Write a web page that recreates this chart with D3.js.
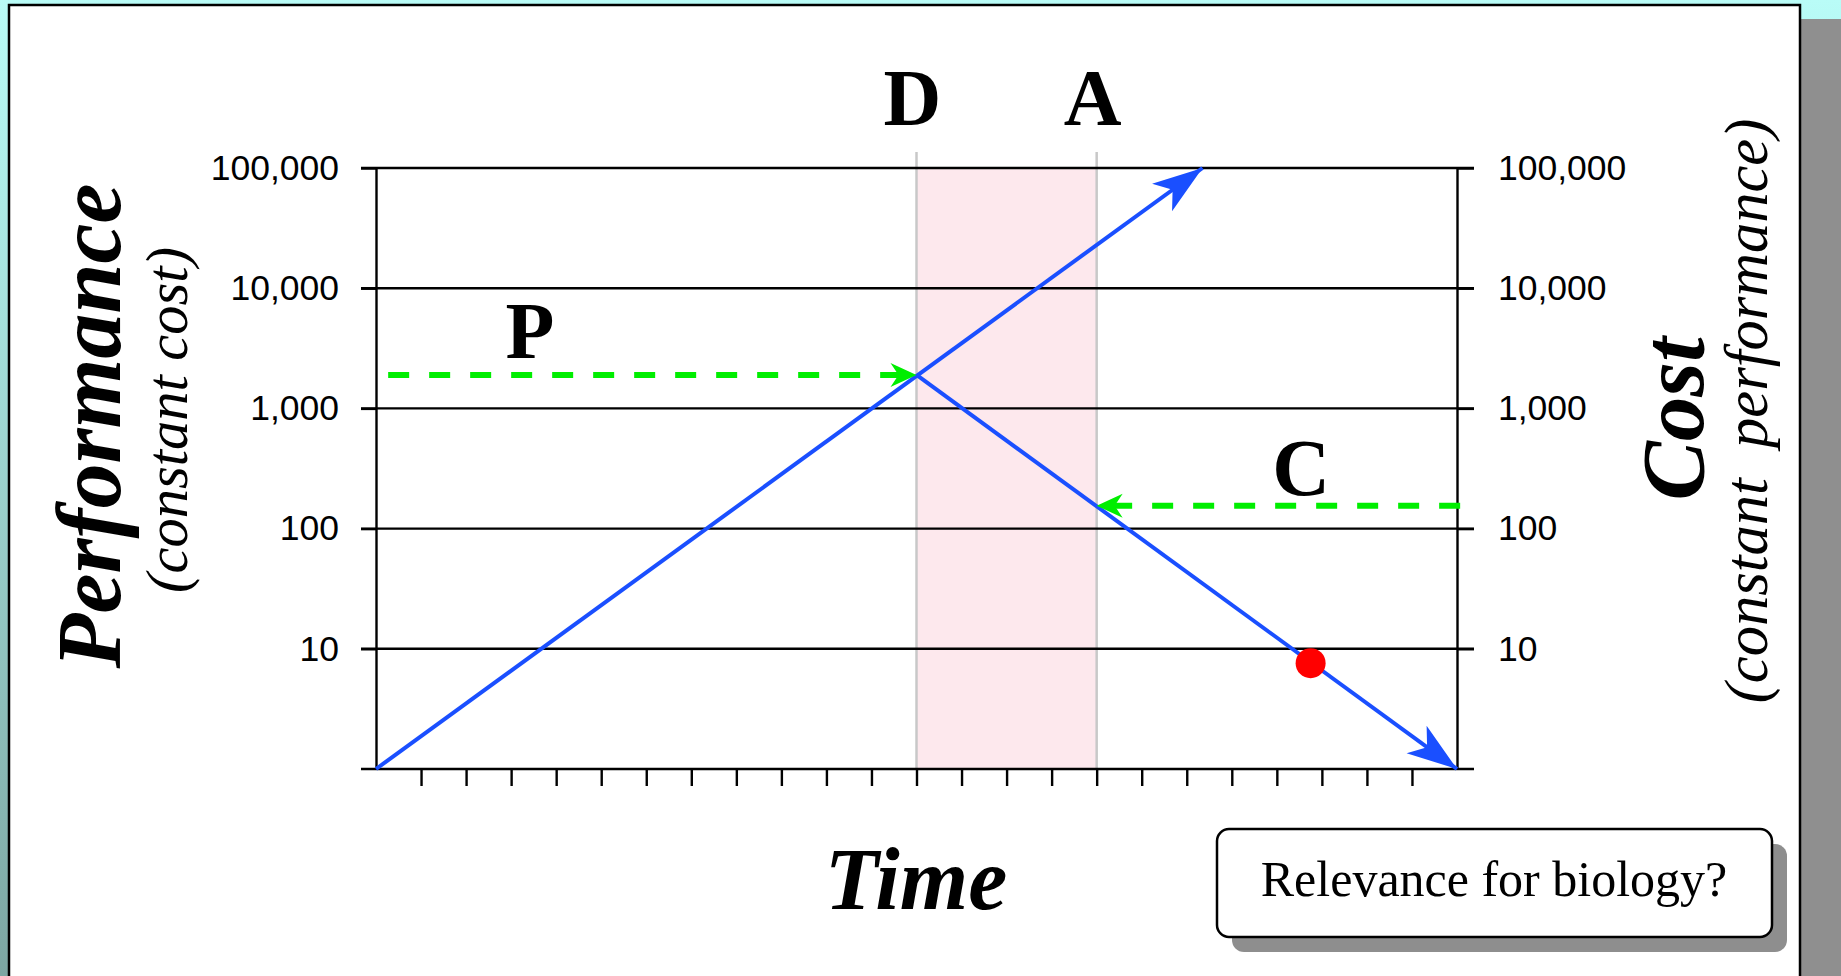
<!DOCTYPE html>
<html>
<head>
<meta charset="utf-8">
<script src="https://cdn.jsdelivr.net/npm/d3@7"></script>
<style>
  html, body { margin: 0; padding: 0; overflow: hidden; }
  svg { display: block; }
  .tick text { font-family: "Liberation Sans", Arial, sans-serif; }
  .serif { font-family: "Liberation Serif", "Times New Roman", serif; }
</style>
</head>
<body>
<div id="chart"></div>
<script>
const width = 1841, height = 976;

// values
const yTicks = [10, 100, 1000, 10000, 100000];
const timeTicks = [1,2,3,4,5,6,7,8,9,10,11,12,13,14,15,16,17,18,19,20,21,22,23];
const performanceLine = [[0, 1], [18.35, 100000]];
const costLine = [[12, 1900], [24, 1]];
const phaseMarks = [{label: "D", t: 12}, {label: "A", t: 16}];
const pArrow = {from: 0.27, to: 12, value: 1900};
const cArrow = {from: 24.07, to: 16, value: 155};
const redDot = [[20.75, 7.6]];

const x = d3.scaleLinear().domain([0, 24]).range([376, 1457]);
const y = d3.scaleLog().domain([1, 100000]).range([769, 168]);

const svg = d3.select("#chart").append("svg")
  .attr("width", width).attr("height", height);

const defs = svg.append("defs");
const grad = defs.append("linearGradient").attr("id", "bg")
  .attr("x1", 0).attr("y1", 0).attr("x2", 0).attr("y2", 1);
grad.append("stop").attr("offset", "0%").attr("stop-color", "#b9fcf7");
grad.append("stop").attr("offset", "100%").attr("stop-color", "#7ca6a2");

function arrowMarker(id, color, len, half, notch) {
  defs.append("marker")
    .attr("id", id)
    .attr("markerUnits", "userSpaceOnUse")
    .attr("viewBox", `${-len - 1} ${-half - 1} ${len + 2} ${2 * half + 2}`)
    .attr("refX", 0).attr("refY", 0)
    .attr("markerWidth", len + 2).attr("markerHeight", 2 * half + 2)
    .attr("orient", "auto")
    .append("path")
    .attr("d", `M0,0 L${-len},${-half} L${-notch},0 L${-len},${half} Z`)
    .attr("fill", color);
}
arrowMarker("blueArrow", "#1a4fff", 50, 17, 37);
arrowMarker("greenArrow", "#00ee00", 26, 12, 18);

// slide background, shadow and panel
svg.append("rect").attr("width", width).attr("height", height).attr("fill", "url(#bg)");
svg.append("rect").attr("x", 40).attr("y", 19).attr("width", 1840).attr("height", 1100).attr("fill", "#8f8f8f");
svg.append("rect").attr("x", 9).attr("y", 5).attr("width", 1791).attr("height", 1100)
  .attr("fill", "#fff").attr("stroke", "#000").attr("stroke-width", 2.5);

// pink band between D and A
svg.append("rect")
  .attr("x", x(phaseMarks[0].t)).attr("y", y(100000))
  .attr("width", x(phaseMarks[1].t) - x(phaseMarks[0].t))
  .attr("height", y(1) - y(100000))
  .attr("fill", "#fde8ed");

// vertical D / A lines
svg.append("g").selectAll("line").data(phaseMarks).join("line")
  .attr("x1", d => x(d.t)).attr("x2", d => x(d.t))
  .attr("y1", y(100000) - 16).attr("y2", y(1))
  .attr("stroke", "#c8c8c8").attr("stroke-width", 2.5);

// horizontal grid lines (including the base line at 1)
svg.append("g").selectAll("line").data([1].concat(yTicks)).join("line")
  .attr("x1", x(0) - 15).attr("x2", x(24) + 17)
  .attr("y1", d => y(d)).attr("y2", d => y(d))
  .attr("stroke", "#000").attr("stroke-width", 2.4);

// left axis
const fmt = d3.format(",");
const leftAxis = svg.append("g").attr("transform", `translate(${x(0)},0)`)
  .call(d3.axisLeft(y).tickValues(yTicks).tickFormat(fmt).tickSize(15).tickSizeOuter(0).tickPadding(22));
// right axis
const rightAxis = svg.append("g").attr("transform", `translate(${x(24)},0)`)
  .call(d3.axisRight(y).tickValues(yTicks).tickFormat(fmt).tickSize(17).tickSizeOuter(0).tickPadding(24));
[leftAxis, rightAxis].forEach(g => {
  g.select(".domain").attr("stroke", "#000").attr("stroke-width", 2.4);
  g.selectAll(".tick line").attr("stroke-width", 2.4);
  g.selectAll(".tick text").attr("font-size", 35.5).attr("fill", "#000");
});

// bottom time ticks
const bottomAxis = svg.append("g").attr("transform", `translate(0,${y(1)})`)
  .call(d3.axisBottom(x).tickValues(timeTicks).tickFormat("").tickSize(17).tickSizeOuter(0));
bottomAxis.select(".domain").remove();
bottomAxis.selectAll(".tick line").attr("stroke-width", 2.4);

// blue lines
const line = d3.line().x(d => x(d[0])).y(d => y(d[1]));
svg.append("path").datum(performanceLine).attr("d", line)
  .attr("fill", "none").attr("stroke", "#1a4fff").attr("stroke-width", 4)
  .attr("marker-end", "url(#blueArrow)");
svg.append("path").datum(costLine).attr("d", line)
  .attr("fill", "none").attr("stroke", "#1a4fff").attr("stroke-width", 4)
  .attr("marker-end", "url(#blueArrow)");

// green dashed arrows
[pArrow, cArrow].forEach(a => {
  svg.append("path")
    .attr("d", line([[a.from, a.value], [a.to, a.value]]))
    .attr("fill", "none").attr("stroke", "#00ee00").attr("stroke-width", 6)
    .attr("stroke-dasharray", "21 20")
    .attr("marker-end", "url(#greenArrow)");
});

// red dot
svg.append("g").selectAll("circle").data(redDot).join("circle")
  .attr("cx", d => x(d[0])).attr("cy", d => y(d[1])).attr("r", 15)
  .attr("fill", "#ff0000");

// letters D, A, P, C
svg.append("g").selectAll("text").data(phaseMarks).join("text")
  .attr("class", "serif")
  .attr("x", d => x(d.t) - 4).attr("y", 125)
  .attr("text-anchor", "middle").attr("font-size", 80).attr("font-weight", "bold")
  .text(d => d.label);
svg.append("text").attr("class", "serif")
  .attr("x", x(3.42)).attr("y", y(pArrow.value) - 17)
  .attr("text-anchor", "middle").attr("font-size", 80).attr("font-weight", "bold")
  .text("P");
svg.append("text").attr("class", "serif")
  .attr("x", x(20.54)).attr("y", y(cArrow.value) - 11)
  .attr("text-anchor", "middle").attr("font-size", 80).attr("font-weight", "bold")
  .text("C");

// axis titles
function rotated(tx, ty, txt, size, bold) {
  svg.append("text").attr("class", "serif")
    .attr("transform", `translate(${tx},${ty}) rotate(-90)`)
    .attr("text-anchor", "middle")
    .attr("font-size", size)
    .attr("font-style", "italic")
    .attr("font-weight", bold ? "bold" : "normal")
    .style("white-space", "pre")
    .text(txt);
}
rotated(120, 426, "Performance", 90, true);
rotated(187, 420, "(constant cost)", 58.5, false);
rotated(1703, 419, "Cost", 89, true);
rotated(1767, 411, "(constant  performance)", 60.5, false);

svg.append("text").attr("class", "serif")
  .attr("x", 916).attr("y", 909)
  .attr("text-anchor", "middle").attr("font-size", 88)
  .attr("font-style", "italic").attr("font-weight", "bold")
  .text("Time");

// question box
svg.append("rect").attr("x", 1232).attr("y", 844).attr("width", 555).attr("height", 108)
  .attr("rx", 12).attr("fill", "#8e8e8e");
svg.append("rect").attr("x", 1217).attr("y", 829).attr("width", 555).attr("height", 108)
  .attr("rx", 12).attr("fill", "#fff").attr("stroke", "#000").attr("stroke-width", 2.5);
svg.append("text").attr("class", "serif")
  .attr("x", 1494).attr("y", 896)
  .attr("text-anchor", "middle").attr("font-size", 50)
  .text("Relevance for biology?");
</script>
</body>
</html>
